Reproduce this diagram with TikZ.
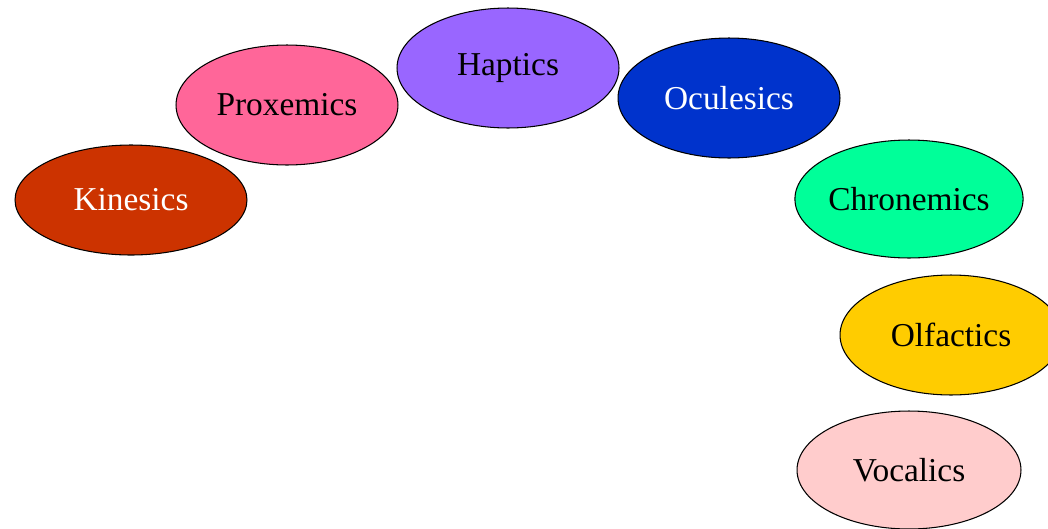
\documentclass[tikz,border=0pt]{standalone}
\usepackage{fontspec}
\setmainfont{Liberation Serif}
\usetikzlibrary{shapes.geometric}

\definecolor{kincol}{HTML}{CC3300}
\definecolor{proxcol}{HTML}{FF6699}
\definecolor{hapcol}{HTML}{9966FF}
\definecolor{oculcol}{HTML}{0033CC}
\definecolor{chroncol}{HTML}{00FF99}
\definecolor{olfcol}{HTML}{FFCC00}
\definecolor{vocalcol}{HTML}{FFCCCC}

\begin{document}
\begin{tikzpicture}[x=0.02cm,y=-0.02cm]
        \tikzset{
            blob/.style={
                ellipse, draw=black, line width=0.6pt, inner sep=0pt,
                minimum width=4.44cm, minimum height=2.4cm,
                font=\fontsize{19}{22}\selectfont, fill=#1
            }
        }
        \clip (0,0) rectangle (1048,528);
        \node[blob=kincol, text=white, minimum width=4.64cm, minimum height=2.2cm] (kin) at (131,200) {Kinesics};
        \node[blob=proxcol] (prox) at (287,105) {Proxemics};
        \node[blob=hapcol] (hap) at (508,68) {Haptics};
        \node[blob=oculcol, text=white] (ocul) at (729,98) {Oculesics};
        \node[blob=chroncol, minimum width=4.48cm, minimum height=2.36cm] (chron) at (909,199) {Chronemics};
        \node[blob=olfcol] (olf) at (951,335) {Olfactics};
        \node[blob=vocalcol, minimum width=4.48cm, minimum height=2.36cm] (vocal) at (909,470) {Vocalics};
    \end{tikzpicture}
\end{document}
